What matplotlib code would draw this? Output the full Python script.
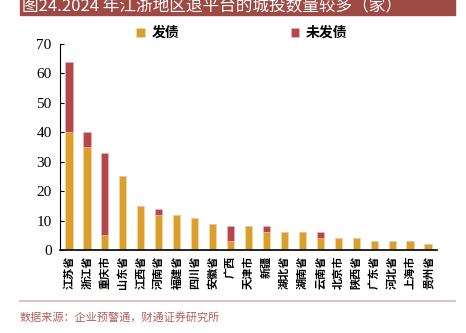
import numpy as np
import matplotlib.pyplot as plt
from matplotlib.lines import Line2D

plt.rcParams['font.family'] = ['Noto Sans CJK SC', 'DejaVu Sans']

regions = ['江苏省', '浙江省', '重庆市', '山东省', '江西省', '河南省', '福建省',
           '四川省', '安徽省', '广西', '天津市', '新疆', '湖北省', '湖南省',
           '云南省', '北京市', '陕西省', '广东省', '河北省', '上海市', '贵州省']
issued = [40, 35, 5, 25, 15, 12, 12, 11, 9, 3, 8, 6, 6, 6, 4, 4, 4, 3, 3, 3, 2]
not_issued = [24, 5, 28, 0, 0, 2, 0, 0, 0, 5, 0, 2, 0, 0, 2, 0, 0, 0, 0, 0, 0]
yticks = [0, 10, 20, 30, 40, 50, 60, 70]

yellow = '#DBA02B'
red = '#B5474A'

fig = plt.figure(figsize=(4.66, 3.33), dpi=100)
ax = fig.add_axes([0.1288, 0.2492, 0.809, 0.6187])

x = np.arange(len(regions))
b1 = ax.bar(x, issued, width=0.4, color=yellow, edgecolor='#F2D9A8', linewidth=0.5,
            label='发债')
b2 = ax.bar(x, not_issued, width=0.4, bottom=issued, color=red, edgecolor='#E8B7B5',
            linewidth=0.5, label='未发债')

ax.set_xlim(-0.5, len(regions) - 0.5)
ax.set_ylim(0, 70)
ax.set_yticks(yticks)
ax.set_yticklabels([str(v) for v in yticks], family='Liberation Serif', fontsize=11)
ax.set_xticks(x)
ax.set_xticklabels(regions, rotation=90, fontsize=8, fontweight='bold')
ax.tick_params(axis='x', length=0, pad=4)
ax.tick_params(axis='y', direction='in', length=3, width=0.8, pad=6)
for s in ['top', 'right']:
    ax.spines[s].set_visible(False)
ax.spines['left'].set_linewidth(0.8)
ax.spines['bottom'].set_linewidth(1.2)

# title bar
fig.patches.append(plt.Rectangle((20 / 466, 1 - 15 / 333), 435 / 466, 15 / 333,
                                 transform=fig.transFigure, color='#9E4944', zorder=0))
fig.text(22 / 466, 1 - 7 / 333, '图24.2024 年江浙地区退平台的城投数量较多（家）',
         color='white', fontsize=12, va='center', ha='left')

fig.legend(handles=[b1, b2], loc='center', bbox_to_anchor=(242 / 466, 1 - 33 / 333),
           ncol=2, frameon=False, handlelength=0.6, handleheight=0.6,
           columnspacing=8, handletextpad=0.5, prop={'weight': 'bold', 'size': 10})

fig.add_artist(Line2D([20 / 466, 455 / 466], [1 - 301 / 333, 1 - 301 / 333],
                      transform=fig.transFigure, color='#DDB6B2', linewidth=1.2))
fig.text(20 / 466, 1 - 317 / 333, '数据来源：企业预警通，财通证券研究所',
         color='#B0605A', fontsize=8, va='center', ha='left')

fig.savefig('out.png', dpi=100)
